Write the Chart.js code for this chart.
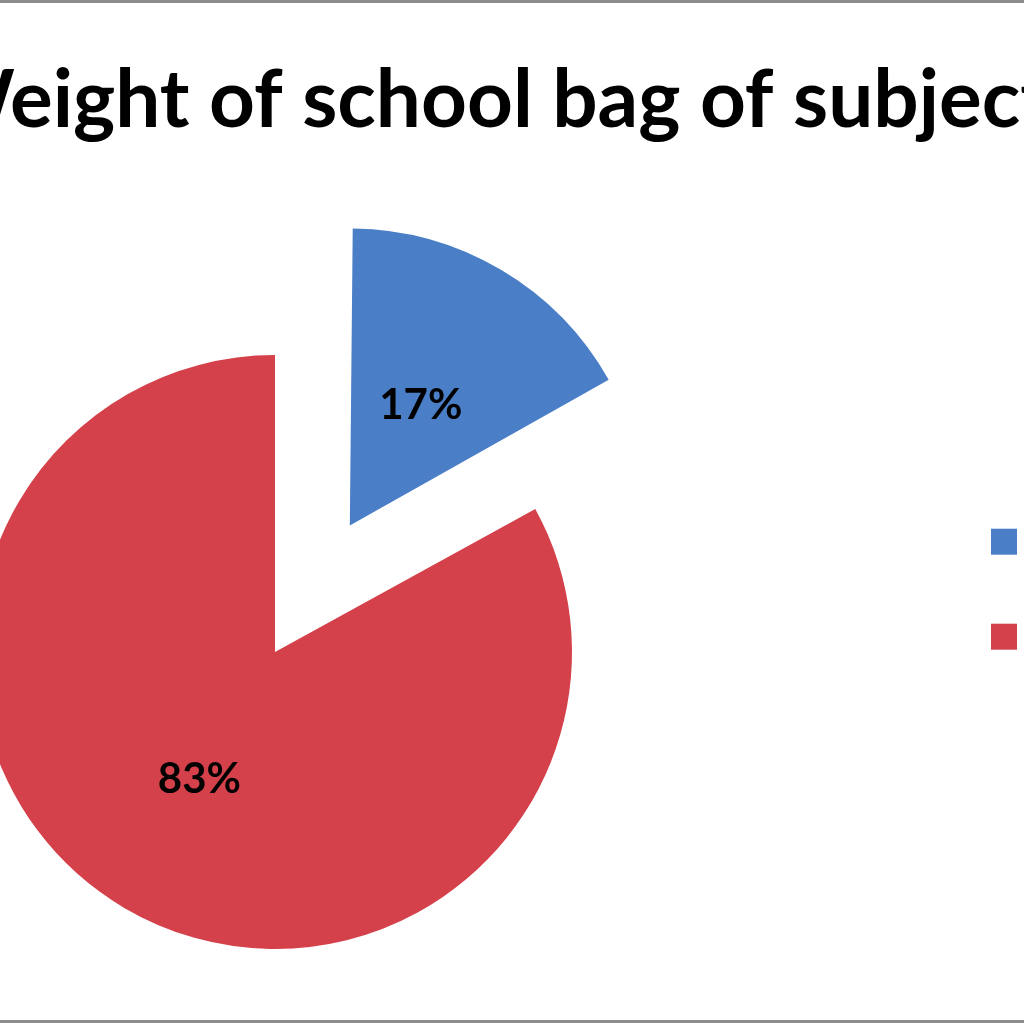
<!DOCTYPE html>
<html>
<head>
<meta charset="utf-8">
<script src="https://cdn.jsdelivr.net/npm/chart.js@4/dist/chart.umd.min.js"></script>
<style>
  html, body { margin: 0; padding: 0; background: #fff; overflow: hidden; }
  #frame { position: relative; width: 1024px; height: 1024px; overflow: hidden; background: #fff; }
  #frame::before, #frame::after { content: ''; position: absolute; left: 0; right: 0; height: 3px; background: #8c8c8c; z-index: 2; }
  #frame::before { top: 0; }
  #frame::after { bottom: 1px; }
  /* the picture is a crop of a wider chart, so the canvas runs past both edges */
  #wrap { position: absolute; left: -400px; top: 0; width: 1792px; height: 1024px; }
</style>
</head>
<body>
<div id="frame">
  <div id="wrap"><canvas id="pie"></canvas></div>
</div>
<script>
// data
const categories = ['Above 10% of body weight', 'Within 10% of body weight'];
const shares = [17, 83];

// percent labels inside the slices
const sliceLabels = {
  id: 'sliceLabels',
  afterDatasetsDraw(chart) {
    const ctx = chart.ctx;
    const arcs = chart.getDatasetMeta(0).data;
    ctx.save();
    ctx.font = 'bold 42px Lato';
    ctx.fillStyle = '#000';
    ctx.textAlign = 'center';
    ctx.textBaseline = 'middle';
    arcs.forEach((arc, i) => {
      const mid = (arc.startAngle + arc.endAngle) / 2;
      const shift = (arc.options.offset || 0) / 4;
      const d = shift + arc.outerRadius * 0.5;
      ctx.fillText(shares[i] + '%', arc.x + Math.cos(mid) * d, arc.y + Math.sin(mid) * d);
    });
    ctx.restore();
  }
};

// chart.js grows an exploded slice a little, keep it the same radius as the rest
const keepRadius = {
  id: 'keepRadius',
  afterDatasetsUpdate(chart) {
    chart.getDatasetMeta(0).data.forEach(arc => {
      const shift = (arc.options.offset || 0) / 4;
      const fix = 1 - Math.sin(Math.min(Math.PI, arc.circumference));
      arc.outerRadius -= shift * fix;
    });
  }
};

new Chart(document.getElementById('pie'), {
  type: 'pie',
  data: {
    labels: categories,
    datasets: [{
      data: shares,
      backgroundColor: ['#4A7EC7', '#D5414B'],
      borderWidth: 0,
      offset: [588, 0],
      hoverOffset: 0
    }]
  },
  options: {
    responsive: true,
    maintainAspectRatio: false,
    animation: false,
    radius: 297,
    layout: { padding: { left: 24, right: 0, top: 0, bottom: 0 } },
    plugins: {
      title: {
        display: true,
        text: 'Weight of school bag of subjects',
        color: '#000',
        font: { family: 'Lato', size: 80, weight: 'bold' },
        padding: { top: 53, bottom: 131 }
      },
      legend: {
        position: 'right',
        maxWidth: 466,
        // empty legend title, only pushes the keys down a bit
        title: { display: true, text: ' ', font: { size: 12 }, padding: { top: 140, bottom: 0 } },
        labels: {
          boxWidth: 26,
          boxHeight: 26,
          padding: 65,
          color: '#000',
          font: { family: 'Lato', size: 30, weight: 'bold' }
        }
      },
      tooltip: { enabled: false }
    }
  },
  plugins: [sliceLabels, keepRadius]
});
</script>
</body>
</html>
